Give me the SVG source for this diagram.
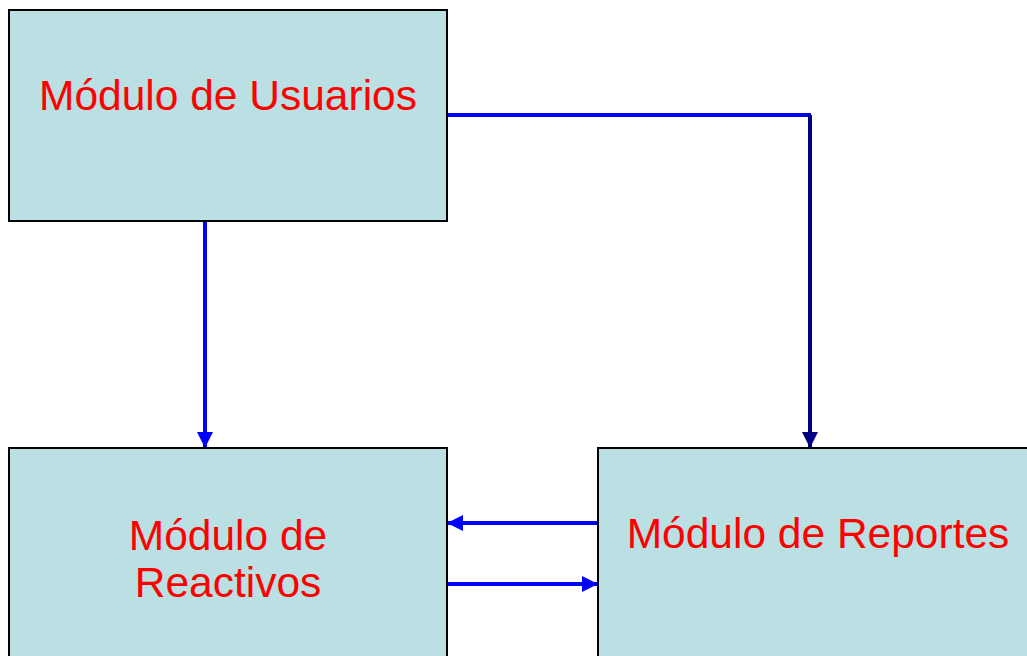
<svg xmlns="http://www.w3.org/2000/svg" width="1027" height="656" viewBox="0 0 1027 656">
<style>
.box{fill:#BAE0E3;stroke:#000;stroke-width:2}
.lbl{font-family:"Liberation Sans",Arial,sans-serif;font-size:42.5px;fill:#FF0000;text-anchor:middle}
.c{fill:none;stroke-width:4}
</style>
<defs>
<marker id="ab" markerUnits="userSpaceOnUse" markerWidth="16" markerHeight="16" refX="15" refY="8" orient="auto"><path d="M0,0 L16,8 L0,16 Z" fill="#0000FF"/></marker>
<marker id="an" markerUnits="userSpaceOnUse" markerWidth="16" markerHeight="16" refX="15" refY="8" orient="auto"><path d="M0,0 L16,8 L0,16 Z" fill="#000080"/></marker>
</defs>
<rect width="1027" height="656" fill="#fff"/>
<g id="connectors">
<line class="c" x1="205" y1="221" x2="205" y2="447" stroke="#0000FF" marker-end="url(#ab)"/>
<line class="c" x1="447" y1="115" x2="811" y2="115" stroke="#0000FF"/>
<line class="c" x1="810" y1="115" x2="810" y2="447" stroke="#000080" marker-end="url(#an)"/>
<line class="c" x1="598" y1="523" x2="448" y2="523" stroke="#0000FF" marker-end="url(#ab)"/>
<line class="c" x1="447" y1="584" x2="597" y2="584" stroke="#0000FF" marker-end="url(#ab)"/>
</g>
<g id="usuarios">
<rect class="box" x="9" y="10" width="438" height="211"/>
<text class="lbl" x="228" y="110">Módulo de Usuarios</text>
</g>
<g id="reactivos">
<rect class="box" x="9" y="448" width="438" height="220"/>
<text class="lbl" x="228" y="550">Módulo de</text>
<text class="lbl" x="228" y="597">Reactivos</text>
</g>
<g id="reportes">
<rect class="box" x="598" y="448" width="440" height="220"/>
<text class="lbl" x="818" y="548">Módulo de Reportes</text>
</g>
</svg>
